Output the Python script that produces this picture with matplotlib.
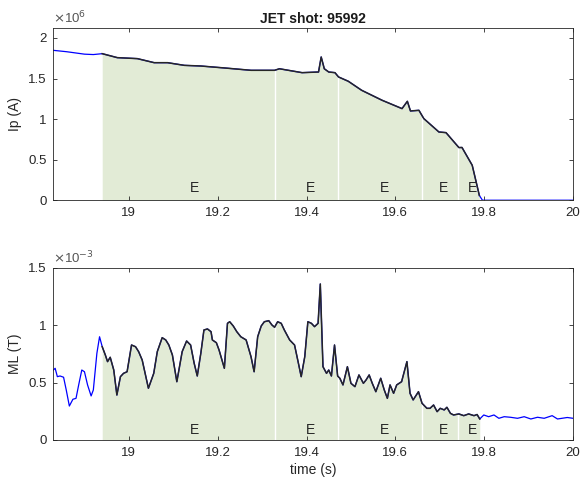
import numpy as np
import matplotlib
matplotlib.use("Agg")
import matplotlib.pyplot as plt

plt.rcParams['font.family'] = ['Liberation Sans', 'DejaVu Sans']

# plasma current Ip (x1e6 A)
ip_t = [18.83, 18.86, 18.90, 18.92, 18.94, 18.974, 19.019, 19.057, 19.087, 19.125,
        19.162, 19.215, 19.275, 19.328, 19.339, 19.39, 19.427, 19.433, 19.44, 19.45,
        19.464, 19.472, 19.494, 19.524, 19.57, 19.615, 19.627, 19.634, 19.653, 19.664,
        19.698, 19.714, 19.743, 19.75, 19.773, 19.781, 19.789, 19.796, 19.85, 19.95, 20.0]
ip_v = [1.847, 1.83, 1.80, 1.795, 1.806, 1.757, 1.745, 1.695, 1.695, 1.662,
        1.654, 1.630, 1.601, 1.601, 1.62, 1.572, 1.58, 1.765, 1.62, 1.58,
        1.572, 1.519, 1.466, 1.355, 1.232, 1.129, 1.219, 1.10, 1.108, 1.006,
        0.841, 0.833, 0.649, 0.65, 0.431, 0.246, 0.06, 0.0, 0.0, 0.0, 0.0]

# ML (x1e-3 T)
ml_t = [18.83, 18.834, 18.839, 18.845, 18.853, 18.859, 18.866, 18.874, 18.881, 18.887,
        18.894, 18.90, 18.907, 18.915, 18.92, 18.928, 18.934, 18.94, 18.947, 18.952,
        18.958, 18.966, 18.973, 18.981, 18.988, 18.996, 19.006, 19.015, 19.022, 19.03,
        19.044, 19.056, 19.064, 19.075, 19.083, 19.09, 19.098, 19.108, 19.114, 19.12,
        19.13, 19.139, 19.147, 19.154, 19.162, 19.169, 19.177, 19.185, 19.188, 19.197,
        19.203, 19.215, 19.222, 19.227, 19.235, 19.243, 19.252, 19.264, 19.275, 19.282,
        19.29, 19.298, 19.305, 19.315, 19.322, 19.328, 19.335, 19.343, 19.35, 19.362,
        19.373, 19.381, 19.388, 19.396, 19.403, 19.411, 19.418, 19.426, 19.431, 19.437,
        19.445, 19.45, 19.456, 19.463, 19.47, 19.475, 19.482, 19.492, 19.50, 19.509,
        19.518, 19.528, 19.534, 19.541, 19.548, 19.556, 19.567, 19.575, 19.582, 19.588,
        19.596, 19.603, 19.614, 19.626, 19.633, 19.64, 19.652, 19.66, 19.671, 19.678,
        19.686, 19.694, 19.701, 19.71, 19.716, 19.724, 19.731, 19.743, 19.754, 19.765,
        19.777, 19.784, 19.79, 19.799, 19.81, 19.822, 19.833, 19.845, 19.859, 19.875,
        19.89, 19.905, 19.92, 19.935, 19.953, 19.965, 19.987, 20.0]
ml_v = [0.61, 0.625, 0.552, 0.558, 0.547, 0.436, 0.296, 0.355, 0.363, 0.48,
        0.61, 0.595, 0.48, 0.384, 0.436, 0.756, 0.90, 0.813, 0.741, 0.683,
        0.721, 0.61, 0.392, 0.552, 0.581, 0.595, 0.828, 0.813, 0.77, 0.697,
        0.451, 0.581, 0.77, 0.892, 0.872, 0.828, 0.741, 0.508, 0.639, 0.77,
        0.863, 0.828, 0.669, 0.558, 0.756, 0.959, 0.968, 0.944, 0.872, 0.848,
        0.785, 0.625, 1.017, 1.031, 0.994, 0.944, 0.90, 0.872, 0.726, 0.595,
        0.90, 0.994, 1.031, 1.04, 1.003, 0.983, 1.031, 1.017, 0.959, 0.872,
        0.828, 0.683, 0.552, 0.726, 1.031, 1.017, 0.988, 1.017, 1.36, 0.639,
        0.581, 0.61, 0.558, 0.828, 0.558, 0.538, 0.48, 0.639, 0.494, 0.465,
        0.567, 0.494, 0.523, 0.567, 0.494, 0.421, 0.538, 0.436, 0.363, 0.48,
        0.407, 0.48, 0.508, 0.683, 0.407, 0.349, 0.421, 0.32, 0.276, 0.276,
        0.305, 0.247, 0.276, 0.262, 0.285, 0.232, 0.218, 0.227, 0.212, 0.227,
        0.212, 0.222, 0.183, 0.218, 0.203, 0.218, 0.189, 0.203, 0.198, 0.189,
        0.203, 0.183, 0.198, 0.189, 0.212, 0.183, 0.196, 0.189]

# phase boundaries and labels
bounds = [18.94, 19.328, 19.47, 19.659, 19.74, 19.79]
labels = ["E", "E", "E", "E", "E"]
label_x = [19.147, 19.41, 19.576, 19.708, 19.774]

fill_col = "#e2ebd6"
grey = "#262626"

fig = plt.figure(figsize=(5.8, 4.86), dpi=100)
ax1 = fig.add_axes([0.092, 0.588, 0.896, 0.354])
ax2 = fig.add_axes([0.092, 0.0947, 0.896, 0.354])


def panel(ax, t, v, ylim, yticks, yticklabels, ylabel, expo, label_y):
    t = np.array(t)
    v = np.array(v)
    m = (t >= bounds[0]) & (t <= bounds[-1])
    ax.fill_between(t[m], 0, v[m], color=fill_col, lw=0)
    for b in bounds[1:-1]:
        ax.vlines(b, 0, np.interp(b, t, v), color="white", lw=1)
    ax.plot(t, v, color="#0000ff", lw=0.9)
    ax.plot(t[m], v[m], color="#262626", lw=1.1)
    for x, lab in zip(label_x, labels):
        ax.text(x, label_y, lab, ha="center", va="bottom", fontsize=10, color=grey)
    ax.set_xlim(18.83, 20.0)
    ax.set_ylim(*ylim)
    ax.set_xticks([19, 19.2, 19.4, 19.6, 19.8, 20])
    ax.set_xticklabels(["19", "19.2", "19.4", "19.6", "19.8", "20"])
    ax.set_yticks(yticks)
    ax.set_yticklabels(yticklabels)
    ax.tick_params(direction="in", top=True, right=True, labelsize=9.5,
                   colors=grey, length=3, width=0.6, pad=5)
    for s in ax.spines.values():
        s.set_color(grey)
        s.set_linewidth(0.6)
    ax.set_ylabel(ylabel, fontsize=10, color=grey)
    ax.text(0.0, 1.01, r"$\times$10$^{%s}$" % expo, transform=ax.transAxes,
            fontsize=9.5, color="#555555", ha="left", va="bottom")


panel(ax1, ip_t, ip_v, (0, 2.12), [0, 0.5, 1, 1.5, 2],
      ["0", "0.5", "1", "1.5", "2"], "Ip (A)", "6", 0.07)
panel(ax2, ml_t, ml_v, (0, 1.5), [0, 0.5, 1, 1.5],
      ["0", "0.5", "1", "1.5"], "ML (T)", "-3", 0.025)

ax1.set_title("JET shot: 95992", fontsize=10, fontweight="bold", color="#1a1a1a", pad=4)
ax2.set_xlabel("time (s)", fontsize=10, color=grey, labelpad=3)

fig.savefig("out.png", dpi=100)
